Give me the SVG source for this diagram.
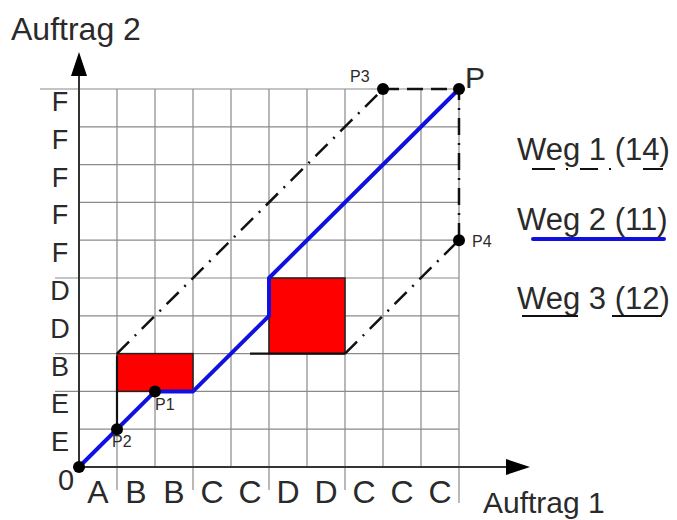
<svg xmlns="http://www.w3.org/2000/svg" width="677" height="520" viewBox="0 0 677 520">
<defs>
<style>
.grid{stroke:#8a8a8a;stroke-width:1.2;fill:none}
.axis{stroke:#333;stroke-width:2;fill:none}
.t{font-family:"Liberation Sans",Arial,sans-serif;fill:#2a2a2a}
.lbl{font-size:27px;text-anchor:middle}
.xl{font-size:32px;text-anchor:middle}
.pl{font-size:16px}
.blue{stroke:#1010e0;stroke-width:4;fill:none;stroke-linejoin:round}
.dash{stroke:#111;stroke-width:2.5;fill:none;stroke-dasharray:17 8 2 8}
.dot{fill:#000}
.red{fill:#ff0000;stroke:#222;stroke-width:1.5}
</style>
</defs>
<rect width="677" height="520" fill="#fff"/>
<g id="grid">
<path class="grid" d="M117 89V490M155 89V467M193 89V490M231 89V467M269 89V490M307 89V467M345 89V490M383 89V467M421 89V467M459 89V503"/>
<path class="grid" d="M40 89H459M79 126.8H459M79 164.6H459M79 202.4H459M79 240.2H459M55 278H459M79 315.8H459M55 353.6H459M55 391.4H459M79 429.2H459"/>
</g>
<g id="axes">
<path class="axis" d="M79 470V72M76 467H512"/>
<polygon points="79,52 71,76 87,76" fill="#000"/>
<polygon points="530,467 506,459 506,475" fill="#000"/>
</g>
<g id="ylabels" class="t lbl">
<text x="60" y="111">F</text>
<text x="60" y="149">F</text>
<text x="60" y="187">F</text>
<text x="60" y="224">F</text>
<text x="60" y="262">F</text>
<text x="60" y="300">D</text>
<text x="60" y="338">D</text>
<text x="60" y="376">B</text>
<text x="60" y="413">E</text>
<text x="60" y="451">E</text>
</g>
<g id="xlabels" class="t xl">
<text x="98" y="503">A</text>
<text x="136" y="503">B</text>
<text x="174" y="503">B</text>
<text x="212" y="503">C</text>
<text x="250" y="503">C</text>
<text x="288" y="503">D</text>
<text x="326" y="503">D</text>
<text x="364" y="503">C</text>
<text x="402" y="503">C</text>
<text x="440" y="503">C</text>
</g>
<text class="t" x="66" y="490" font-size="29" text-anchor="middle">0</text>
<text class="t" x="11" y="40" font-size="32">Auftrag 2</text>
<text class="t" x="483" y="513" font-size="30">Auftrag 1</text>
<g id="block1"><rect class="red" x="117" y="353.6" width="76" height="37.8"/></g>
<g id="block2"><rect class="red" x="269" y="278" width="76" height="75.6"/></g>
<g id="connectors">
<path class="blue" d="M79 467L155 391.4H193L269 315.8V278L459 89"/>
<path stroke="#111" stroke-width="2.2" fill="none" d="M117 429V356"/>
<path class="dash" d="M117 353.6L383 89"/>
<path stroke="#111" stroke-width="2.5" fill="none" stroke-dasharray="16 8" d="M383 89H459"/>
<path stroke="#111" stroke-width="2.2" fill="none" d="M250 353.6H345"/>
<path class="dash" d="M345 353.6L459 240"/>
<path class="dash" d="M459 240V89"/>
</g>
<g id="P0"><circle class="dot" cx="79" cy="467" r="6"/></g>
<g id="P2"><circle class="dot" cx="117" cy="429.2" r="6"/><text class="t pl" x="112" y="447">P2</text></g>
<g id="P1"><circle class="dot" cx="155" cy="391.4" r="6"/><text class="t pl" x="155" y="410">P1</text></g>
<g id="P3"><circle class="dot" cx="383" cy="89" r="6"/><text class="t pl" x="350" y="82">P3</text></g>
<g id="P"><circle class="dot" cx="459" cy="89" r="6"/><text class="t" x="465" y="88" font-size="30">P</text></g>
<g id="P4"><circle class="dot" cx="459" cy="240.2" r="6"/><text class="t pl" x="472" y="247">P4</text></g>
<g id="legend">
<text class="t" x="517" y="160" font-size="31">Weg 1 (14)</text>
<path stroke="#111" stroke-width="2.2" d="M532 169H555M566 169H568M580 169H598M609 169H611M643 169H663"/>
<text class="t" x="517" y="230" font-size="31">Weg 2 (11)</text>
<path stroke="#1010e0" stroke-width="4" stroke-linecap="round" d="M533 239H664"/>
<text class="t" x="517" y="309" font-size="31">Weg 3 (12)</text>
<path stroke="#111" stroke-width="2.2" d="M522 316H578M612 316H662"/>
</g>
</svg>
